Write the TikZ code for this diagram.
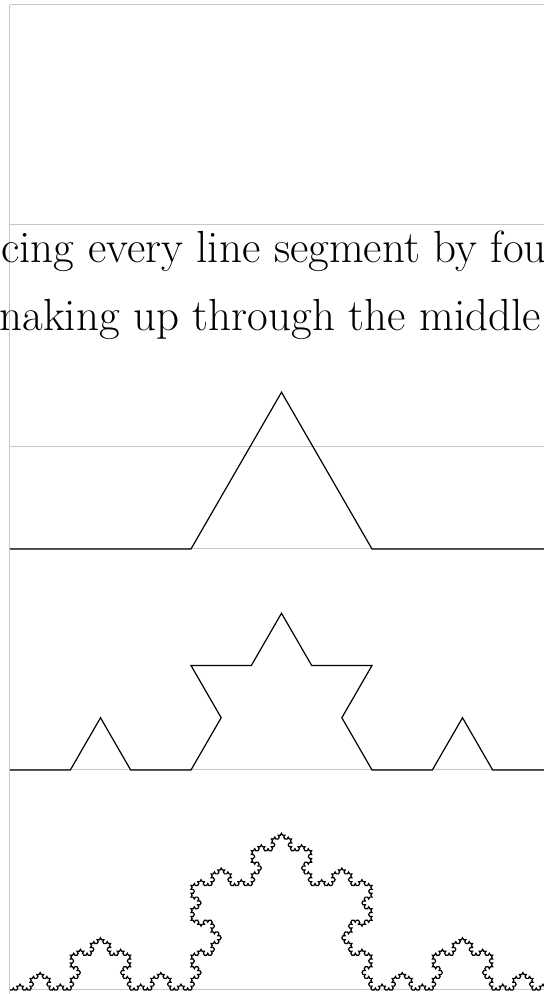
\documentclass[tikz,border=0pt]{standalone}
\usetikzlibrary{lindenmayersystems}
\pgfdeclarelindenmayersystem{Koch}{\rule{F -> F+F--F+F}}
\tikzset{
  frameline/.style={draw=gray!45, line width=0.5pt},
  koch/.style={line width=0.6pt, line join=miter},
  caption/.style={anchor=base west, inner sep=0pt, font=\fontsize{22.5}{27}\selectfont},
}
\begin{document}
\begin{tikzpicture}[x=0.5pt,y=0.5pt]
\useasboundingbox (0,0) rectangle (544,994);
\clip (0,0) rectangle (544,994);
% page outlines
\draw[frameline] (9.5,0) -- (9.5,989);
\foreach \y in {989,769,547,445,224,4}
  \draw[frameline] (9.5,\y) -- (544,\y);
% text
\node[caption] (line1) at (1,731) {cing every line segment by fou};
\node[caption] (line2) at (-1,663) {naking up through the middle};
% koch curves
\coordinate (k1) at (10,445);
\coordinate (k2) at (10,224);
\coordinate (k5) at (10,4);
\begin{scope}[shift={(k1)}]
  \draw[koch, lindenmayer system={Koch, axiom=F, order=1, step=90.5pt, angle=60}]
    lindenmayer system;
\end{scope}
\begin{scope}[shift={(k2)}]
  \draw[koch, lindenmayer system={Koch, axiom=F, order=2, step=30.1667pt, angle=60}]
    lindenmayer system;
\end{scope}
\begin{scope}[shift={(k5)}]
  \draw[koch, lindenmayer system={Koch, axiom=F, order=5, step=1.1173pt, angle=60}]
    lindenmayer system;
\end{scope}
\end{tikzpicture}
\end{document}
